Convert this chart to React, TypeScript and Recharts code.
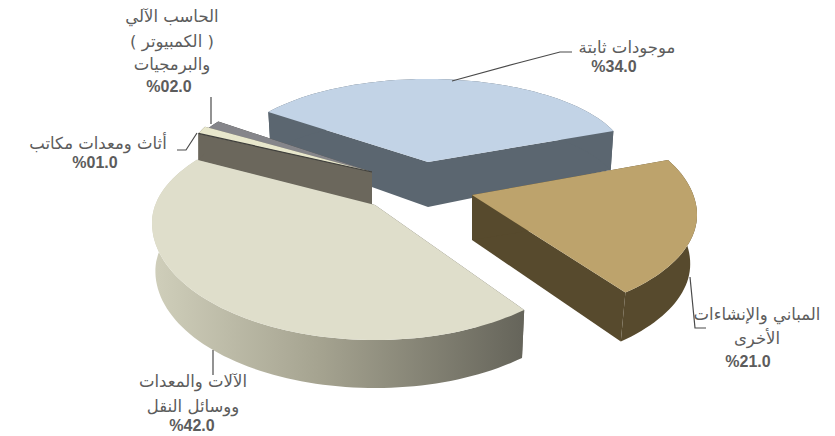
import React from "react";
import { PieChart, Pie } from "recharts";

const W = 835;
const H = 436;

// Order is the counter-clockwise order of the slices, starting at the blue one.
const CATEGORY_LINES: string[][] = [
  ["موجودات ثابتة"],
  ["الحاسب الآلي", "( الكمبيوتر )", "والبرمجيات"],
  ["أثاث ومعدات مكاتب"],
  ["الآلات والمعدات", "ووسائل النقل"],
  ["المباني والإنشاءات", "الأخرى"],
];
const VALUES: number[] = [34, 2, 1, 42, 21];
const VALUE_LABELS: string[] = ["%34.0", "%02.0", "%01.0", "%42.0", "%21.0"];

const chartData = VALUES.map((value, i) => ({ name: CATEGORY_LINES[i].join(" "), value }));

type SliceStyle = {
  dx: number; dy: number; oy: number; rx: number; up: number; down: number;
  depthApex: number; depthRim: number; inset: number;
  shiftStart: number; shiftEnd: number;
  top: string; side: string; edge?: string; gradient?: string[];
};

const SLICE_STYLES: SliceStyle[] = [
  { dx: 28, dy: -28, oy: 0, rx: 200, up: 83, down: 83, depthApex: 45, depthRim: 39, inset: 0.985, shiftStart: 1.4, shiftEnd: 0, top: "#c2d3e6", side: "#5b6670" },
  { dx: -28, dy: -18, oy: 0, rx: 190, up: 86, down: 86, depthApex: 33, depthRim: 27, inset: 1, shiftStart: 1, shiftEnd: 1.3, top: "#85858a", side: "#3f3f3c" },
  { dx: -28, dy: -18, oy: 0, rx: 190, up: 95, down: 95, depthApex: 33, depthRim: 27, inset: 1, shiftStart: 1.3, shiftEnd: 2.2, top: "#e8e7cc", side: "#6b675c", edge: "#3f3f3c" },
  { dx: -25, dy: 15, oy: 18, rx: 223, up: 105, down: 117, depthApex: 48, depthRim: 48, inset: 0.985, shiftStart: -10.8, shiftEnd: 7, top: "#dfdecb", side: "#66645a", gradient: ["#d0cfbb", "#a5a390", "#65645a"] },
  { dx: 72, dy: 5, oy: 20, rx: 225, up: 112, down: 106, depthApex: 45, depthRim: 49, inset: 0.97, shiftStart: 8, shiftEnd: 8.8, top: "#bda36c", side: "#574a2d" },
];

type LabelStyle = {
  x: number; lineYs: number[]; valueX: number; valueY: number; leader: [number, number][];
};

const LABEL_STYLES: LabelStyle[] = [
  { x: 627, lineYs: [53], valueX: 614, valueY: 72, leader: [[452, 81], [518, 63], [560, 52], [572, 52]] },
  { x: 172, lineYs: [22, 47, 70], valueX: 169, valueY: 92, leader: [[211, 97], [211, 124]] },
  { x: 98, lineYs: [149], valueX: 95, valueY: 168, leader: [[197, 133], [186, 150], [177, 150]] },
  { x: 193, lineYs: [387, 412], valueX: 192, valueY: 431, leader: [[213, 350], [213, 375]] },
  { x: 757, lineYs: [320, 344], valueX: 748, valueY: 367, leader: [[690, 277], [695, 328], [706, 328]] },
];

const TEXT_FONT = "'DejaVu Sans', sans-serif";
const VALUE_FONT = "'Liberation Sans', Arial, sans-serif";
const RAD = Math.PI / 180;

function rimPoint(s: SliceStyle, ax: number, ay: number, deg: number): [number, number] {
  const c = Math.cos(deg * RAD);
  const sn = Math.sin(deg * RAD);
  return [ax + s.rx * c, ay + s.oy - (sn > 0 ? s.up : s.down) * sn];
}

function toPath(points: [number, number][]): string {
  return "M" + points.map((p) => p[0].toFixed(1) + " " + p[1].toFixed(1)).join("L") + "Z";
}

function SliceShape(props: any) {
  const index: number = props.index ?? SLICE_STYLES.findIndex((_, i) => chartData[i].name === props.name);
  const s = SLICE_STYLES[index];
  const ax = props.cx + s.dx;
  const ay = props.cy + s.dy;
  const from = props.startAngle + s.shiftStart;
  const to = props.endAngle + s.shiftEnd;
  const steps = Math.max(4, Math.ceil(Math.abs(to - from) / 2));
  const rim: [number, number][] = [];
  for (let k = 0; k <= steps; k++) rim.push(rimPoint(s, ax, ay, from + ((to - from) * k) / steps));
  const low = (p: [number, number]): [number, number] => [ax + (p[0] - ax) * s.inset, p[1] + s.depthRim];
  const apexLow: [number, number] = [ax, ay + s.depthApex];
  const gradId = "side-gradient-" + index;
  const sideFill = s.gradient ? "url(#" + gradId + ")" : s.side;
  const first = rim[0];
  const last = rim[rim.length - 1];
  return (
    <g>
      {s.gradient ? (
        <defs>
          <linearGradient id={gradId} gradientUnits="userSpaceOnUse" x1={ax - s.rx} x2={ax + s.rx * 0.67} y1={0} y2={0}>
            <stop offset="0" stopColor={s.gradient[0]} />
            <stop offset="0.45" stopColor={s.gradient[1]} />
            <stop offset="1" stopColor={s.gradient[2]} />
          </linearGradient>
        </defs>
      ) : null}
      <path d={toPath([[ax, ay], first, low(first), apexLow])} fill={s.side} />
      <path d={toPath([[ax, ay], last, low(last), apexLow])} fill={s.side} />
      <path d={toPath([...rim, ...rim.slice().reverse().map(low)])} fill={sideFill} />
      <path d={toPath([[ax, ay], ...rim])} fill={s.top} />
      {s.edge ? <path d={toPath([[ax, ay], last])} stroke={s.edge} strokeWidth={1.2} fill="none" /> : null}
    </g>
  );
}

function SliceLabel(props: any) {
  const i: number = props.index;
  const l = LABEL_STYLES[i];
  return (
    <g>
      <polyline
        points={l.leader.map((p) => p.join(",")).join(" ")}
        fill="none"
        stroke="#4a4a4a"
        strokeWidth={1.2}
      />
      {CATEGORY_LINES[i].map((line, k) => (
        <text
          key={k}
          x={l.x}
          y={l.lineYs[k]}
          textAnchor="middle"
          direction="rtl"
          fontFamily={TEXT_FONT}
          fontSize={16.5}
          fill="#5c5c5c"
        >
          {line}
        </text>
      ))}
      <text
        x={l.valueX}
        y={l.valueY}
        textAnchor="middle"
        fontFamily={VALUE_FONT}
        fontWeight="bold"
        fontSize={16}
        fill="#5c5c5c"
      >
        {VALUE_LABELS[i]}
      </text>
    </g>
  );
}

export default function App() {
  return (
    <div style={{ position: "absolute", left: 0, top: 0, width: W, height: H, background: "#ffffff" }}>
      <PieChart width={W} height={H} margin={{ top: 0, right: 0, bottom: 0, left: 0 }}>
        <Pie
          data={chartData}
          dataKey="value"
          nameKey="name"
          cx={400}
          cy={190}
          outerRadius={200}
          startAngle={20.6}
          endAngle={380.6}
          stroke="none"
          isAnimationActive={false}
          shape={(p: any) => <SliceShape {...p} />}
          labelLine={false}
          label={(p: any) => <SliceLabel {...p} />}
        />
      </PieChart>
    </div>
  );
}
